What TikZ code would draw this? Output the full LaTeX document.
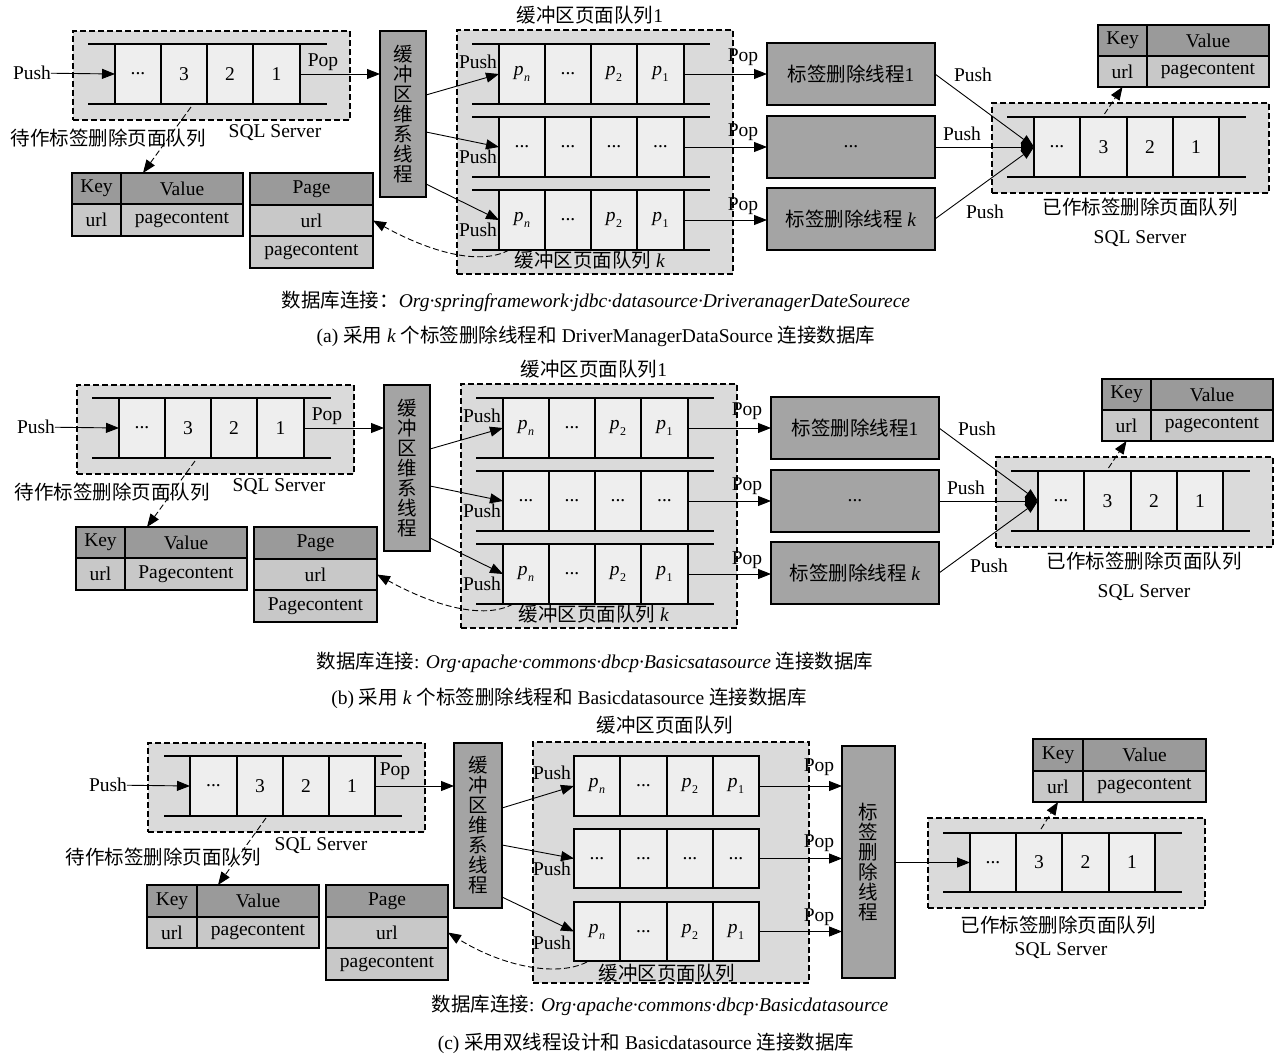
\documentclass[tikz,border=0pt]{standalone}
\usepackage{fontspec}
\setmainfont{Liberation Serif}
\newfontfamily\cjk{Noto Sans CJK SC}
\usetikzlibrary{arrows.meta}
\definecolor{grpgray}{HTML}{DADADA}
\definecolor{cellgray}{HTML}{EEEEEE}
\definecolor{thrgray}{HTML}{A4A4A4}
\definecolor{hdrgray}{HTML}{9A9A9A}
\definecolor{rowgray}{HTML}{C8C8C8}
\newcommand\cj[1]{{\cjk #1}}
\newcommand\dotsx{...}
\newcommand\pp[1]{\textit{p}\kern0.3pt\raisebox{-0.3em}{\fontsize{12}{12}\selectfont #1}}
\newcommand\mkbox[7]{\node[#2, minimum width={#5-#3}, minimum height={#6-#4}] (#1) at ({(#3+#5)/2},{(#4+#6)/2}) {#7};}
\tikzset{
 base/.style={inner sep=0pt, outer sep=0pt},
 grpbox/.style={base, draw, dash pattern=on 6pt off 3pt, fill=grpgray, line width=1.1pt},
 qcell/.style={base, draw, fill=cellgray, line width=1.1pt},
 thrbox/.style={base, draw, fill=thrgray, line width=1.1pt},
 hdrcell/.style={base, draw, fill=hdrgray, line width=1.1pt},
 rowcell/.style={base, draw, fill=rowgray, line width=1.1pt},
 vtext/.style={align=center, font=\cjk\fontsize{19.5}{20}\selectfont},
 lab/.style={base},
 arr/.style={line width=0.9pt, -{Triangle[length=13pt,width=10pt]}},
 darr/.style={arr, dash pattern=on 6pt off 3pt},
 rail/.style={line width=1.1pt},
}
\newcommand\panelAB[1]{%
 % input queue
 \mkbox{inq}{grpbox}{73}{31}{350}{120}{}
 \draw[rail] (88,44) -- (327,44); \draw[rail] (88,104) -- (327,104);
 \mkbox{ic1}{qcell}{115}{44}{161}{104}{\dotsx}
 \mkbox{ic2}{qcell}{161}{44}{207}{104}{3}
 \mkbox{ic3}{qcell}{207}{44}{253}{104}{2}
 \mkbox{ic4}{qcell}{253}{44}{300}{104}{1}
 \node[lab] (ipush) at (32,73) {Push};
 \node[lab] (ipop) at (323,62) {Pop};
 \node[lab] (iname) at (108,138) {\cj{待作标签删除页面队列}};
 \node[lab] (isql) at (275,133) {SQL Server};
 % tables
 \mkbox{kh}{hdrcell}{72}{173}{121}{204}{Key}
 \mkbox{vh}{hdrcell}{121}{173}{243}{204}{Value}
 \mkbox{kr}{rowcell}{72}{204}{121}{236}{url}
 \mkbox{vr}{rowcell}{121}{204}{243}{236}{#1}
 \mkbox{pgh}{hdrcell}{250}{173}{373}{205}{Page}
 \mkbox{pgu}{rowcell}{250}{205}{373}{236}{url}
 \mkbox{pgc}{rowcell}{250}{236}{373}{268}{#1}
 % buffer maintenance thread
 \mkbox{bt}{thrbox,vtext}{380}{31}{426}{197}{缓\\冲\\区\\维\\系\\线\\程}
 % buffer queues
 \mkbox{buf}{grpbox}{457}{30}{733}{274}{}
 \node[lab] (buft) at (590,15) {\cj{缓冲区页面队列}1};
 \node[lab] (bufb) at (590,260) {\cj{缓冲区页面队列} \textit{k}};
 \foreach \ya/\yb in {44/104,117/177,190/250}{
   \draw[rail] (472,\ya) -- (710,\ya); \draw[rail] (472,\yb) -- (710,\yb);
 }
 \mkbox{q1c1}{qcell}{499}{44}{545}{104}{\pp{\textit{n}}}
 \mkbox{q1c2}{qcell}{545}{44}{591}{104}{\dotsx}
 \mkbox{q1c3}{qcell}{591}{44}{637}{104}{\pp{2}}
 \mkbox{q1c4}{qcell}{637}{44}{684}{104}{\pp{1}}
 \mkbox{q2c1}{qcell}{499}{117}{545}{177}{\dotsx}
 \mkbox{q2c2}{qcell}{545}{117}{591}{177}{\dotsx}
 \mkbox{q2c3}{qcell}{591}{117}{637}{177}{\dotsx}
 \mkbox{q2c4}{qcell}{637}{117}{684}{177}{\dotsx}
 \mkbox{q3c1}{qcell}{499}{190}{545}{250}{\pp{\textit{n}}}
 \mkbox{q3c2}{qcell}{545}{190}{591}{250}{\dotsx}
 \mkbox{q3c3}{qcell}{591}{190}{637}{250}{\pp{2}}
 \mkbox{q3c4}{qcell}{637}{190}{684}{250}{\pp{1}}
 \node[lab] (bp1) at (478,62) {Push};
 \node[lab] (bp2) at (478,157) {Push};
 \node[lab] (bp3) at (478,230) {Push};
 \node[lab] (bo1) at (743,57) {Pop};
 \node[lab] (bo2) at (743,132) {Pop};
 \node[lab] (bo3) at (743,206) {Pop};
 % tag deletion threads
 \mkbox{t1}{thrbox}{767}{43}{935}{105}{\cj{标签删除线程}1}
 \mkbox{t2}{thrbox}{767}{116}{935}{178}{\dotsx}
 \mkbox{t3}{thrbox}{767}{188}{935}{250}{\cj{标签删除线程} \textit{k}}
 % output queue
 \mkbox{outq}{grpbox}{992}{103}{1269}{193}{}
 \draw[rail] (1007,117) -- (1246,117); \draw[rail] (1007,177) -- (1246,177);
 \mkbox{oc1}{qcell}{1034}{117}{1080}{177}{\dotsx}
 \mkbox{oc2}{qcell}{1080}{117}{1127}{177}{3}
 \mkbox{oc3}{qcell}{1127}{117}{1173}{177}{2}
 \mkbox{oc4}{qcell}{1173}{117}{1219}{177}{1}
 \node[lab] (op1) at (973,75) {Push};
 \node[lab] (op2) at (962,134) {Push};
 \node[lab] (op3) at (985,212) {Push};
 \node[lab] (oname) at (1140,207) {\cj{已作标签删除页面队列}};
 \node[lab] (osql) at (1140,239) {SQL Server};
 \mkbox{rk}{hdrcell}{1098}{25}{1147}{56}{Key}
 \mkbox{rv}{hdrcell}{1147}{25}{1269}{56}{Value}
 \mkbox{rku}{rowcell}{1098}{56}{1147}{87}{url}
 \mkbox{rvc}{rowcell}{1147}{56}{1269}{87}{pagecontent}
 % connectors
 \draw[arr] (ipush) -- (ic1.west);
 \draw[arr] (ic4.east) -- (ic4.east -| bt.west);
 \draw[darr] ([shift={(7,3)}]ic2.south) -- ([shift={(-39,0)}]vh.north);
 \draw[arr] ([shift={(0,64)}]bt.north east) -- (q1c1.west);
 \draw[arr] ([shift={(0,101)}]bt.north east) -- (q2c1.west);
 \draw[arr] ([shift={(0,153)}]bt.north east) -- (q3c1.west);
 \draw[arr] (q1c4.east) -- (t1.west);
 \draw[arr] (q2c4.east) -- (t2.west);
 \draw[arr] (q3c4.east) -- (q3c4.east -| t3.west);
 \draw[darr] ([shift={(10,0)}]q3c1.south west) .. controls (480,266) and (430,252) .. (pgu.east);
 \draw[arr] (t1.east) -- (oc1.west);
 \draw[arr] (t2.east) -- (oc1.west);
 \draw[arr] (t3.east) -- (oc1.west);
 \draw[darr] ([shift={(1,-3)}]oc2.north) -- (rku.south);
}
\begin{document}
\begin{tikzpicture}[x=1pt,y=-1pt,font=\fontsize{19.5}{22}\selectfont]
\useasboundingbox (0,0) rectangle (1276,1054);
\begin{scope}[name prefix=a-]
\panelAB{pagecontent}
\end{scope}
\begin{scope}[shift={(4,354)},name prefix=b-]
\panelAB{Pagecontent}
\end{scope}
\node[lab] (capa1) at (596,301) {\cj{数据库连接：}\textit{Org·springframework·jdbc·datasource·DriveranagerDateSourece}};
\node[lab] (capa2) at (596,336) {(a) \cj{采用} \textit{k} \cj{个标签删除线程和} DriverManagerDataSource \cj{连接数据库}};
\node[lab] (capb1) at (595,662) {\cj{数据库连接}: \textit{Org·apache·commons·dbcp·Basicsatasource} \cj{连接数据库}};
\node[lab] (capb2) at (569,698) {(b) \cj{采用} \textit{k} \cj{个标签删除线程和} Basicdatasource \cj{连接数据库}};
% ---------- panel (c) ----------
\mkbox{cinq}{grpbox}{148}{743}{425}{832}{}
\draw[rail] (164,756) -- (402,756); \draw[rail] (164,816) -- (402,816);
\mkbox{cic1}{qcell}{190}{756}{237}{816}{\dotsx}
\mkbox{cic2}{qcell}{237}{756}{283}{816}{3}
\mkbox{cic3}{qcell}{283}{756}{329}{816}{2}
\mkbox{cic4}{qcell}{329}{756}{375}{816}{1}
\node[lab] (cpush) at (108,785) {Push};
\node[lab] (cpop) at (395,771) {Pop};
\node[lab] (ciname) at (163,857) {\cj{待作标签删除页面队列}};
\node[lab] (cisql) at (321,846) {SQL Server};
\mkbox{ckh}{hdrcell}{147}{885}{197}{917}{Key}
\mkbox{cvh}{hdrcell}{197}{885}{319}{917}{Value}
\mkbox{ckr}{rowcell}{147}{917}{197}{948}{url}
\mkbox{cvr}{rowcell}{197}{917}{319}{948}{pagecontent}
\mkbox{cpgh}{hdrcell}{326}{885}{448}{917}{Page}
\mkbox{cpgu}{rowcell}{326}{917}{448}{948}{url}
\mkbox{cpgc}{rowcell}{326}{948}{448}{980}{pagecontent}
\mkbox{cbt}{thrbox,vtext}{454}{743}{502}{908}{缓\\冲\\区\\维\\系\\线\\程}
\mkbox{cbuf}{grpbox}{533}{742}{809}{983}{}
\node[lab] (cbuft) at (665,725) {\cj{缓冲区页面队列}};
\node[lab] (cbufb) at (667,973) {\cj{缓冲区页面队列}};
\mkbox{cq1c1}{qcell}{574}{756}{620}{816}{\pp{\textit{n}}}
\mkbox{cq1c2}{qcell}{620}{756}{667}{816}{\dotsx}
\mkbox{cq1c3}{qcell}{667}{756}{713}{816}{\pp{2}}
\mkbox{cq1c4}{qcell}{713}{756}{759}{816}{\pp{1}}
\mkbox{cq2c1}{qcell}{574}{829}{620}{888}{\dotsx}
\mkbox{cq2c2}{qcell}{620}{829}{667}{888}{\dotsx}
\mkbox{cq2c3}{qcell}{667}{829}{713}{888}{\dotsx}
\mkbox{cq2c4}{qcell}{713}{829}{759}{888}{\dotsx}
\mkbox{cq3c1}{qcell}{574}{902}{620}{961}{\pp{\textit{n}}}
\mkbox{cq3c2}{qcell}{620}{902}{667}{961}{\dotsx}
\mkbox{cq3c3}{qcell}{667}{902}{713}{961}{\pp{2}}
\mkbox{cq3c4}{qcell}{713}{902}{759}{961}{\pp{1}}
\node[lab] (cbp1) at (552,773) {Push};
\node[lab] (cbp2) at (552,869) {Push};
\node[lab] (cbp3) at (552,943) {Push};
\node[lab] (cbo1) at (819,767) {Pop};
\node[lab] (cbo2) at (819,843) {Pop};
\node[lab] (cbo3) at (819,917) {Pop};
\mkbox{ctd}{thrbox,vtext}{842}{746}{895}{978}{标\\签\\删\\除\\线\\程}
\mkbox{coutq}{grpbox}{928}{818}{1205}{908}{}
\draw[rail] (943,833) -- (1182,833); \draw[rail] (943,892) -- (1182,892);
\mkbox{coc1}{qcell}{970}{833}{1016}{892}{\dotsx}
\mkbox{coc2}{qcell}{1016}{833}{1062}{892}{3}
\mkbox{coc3}{qcell}{1062}{833}{1109}{892}{2}
\mkbox{coc4}{qcell}{1109}{833}{1155}{892}{1}
\node[lab] (coname) at (1058,925) {\cj{已作标签删除页面队列}};
\node[lab] (cosql) at (1061,951) {SQL Server};
\mkbox{crk}{hdrcell}{1033}{739}{1083}{771}{Key}
\mkbox{crv}{hdrcell}{1083}{739}{1206}{771}{Value}
\mkbox{crku}{rowcell}{1033}{771}{1083}{802}{url}
\mkbox{crvc}{rowcell}{1083}{771}{1206}{802}{pagecontent}
\draw[arr] (cpush) -- (cic1.west);
\draw[arr] (cic4.east) -- (cic4.east -| cbt.west);
\draw[darr] ([shift={(6,2)}]cic2.south) -- ([shift={(-40,0)}]cvh.north);
\draw[arr] ([shift={(0,65)}]cbt.north east) -- (cq1c1.west);
\draw[arr] ([shift={(0,102)}]cbt.north east) -- (cq2c1.west);
\draw[arr] ([shift={(0,154)}]cbt.north east) -- (cq3c1.west);
\draw[arr] (cq1c4.east) -- (cq1c4.east -| ctd.west);
\draw[arr] (cq2c4.east) -- (cq2c4.east -| ctd.west);
\draw[arr] (cq3c4.east) -- (cq3c4.east -| ctd.west);
\draw[darr] ([shift={(13,1)}]cq3c1.south west) .. controls (555,978) and (500,965) .. (cpgu.east);
\draw[arr] (coc1.west -| ctd.east) -- (coc1.west);
\draw[darr] ([shift={(2,-4)}]coc2.north) -- (crku.south);
\node[lab] (capc1) at (660,1005) {\cj{数据库连接}: \textit{Org·apache·commons·dbcp·Basicdatasource}};
\node[lab] (capc2) at (646,1043) {(c) \cj{采用双线程设计和} Basicdatasource \cj{连接数据库}};
\end{tikzpicture}
\end{document}
